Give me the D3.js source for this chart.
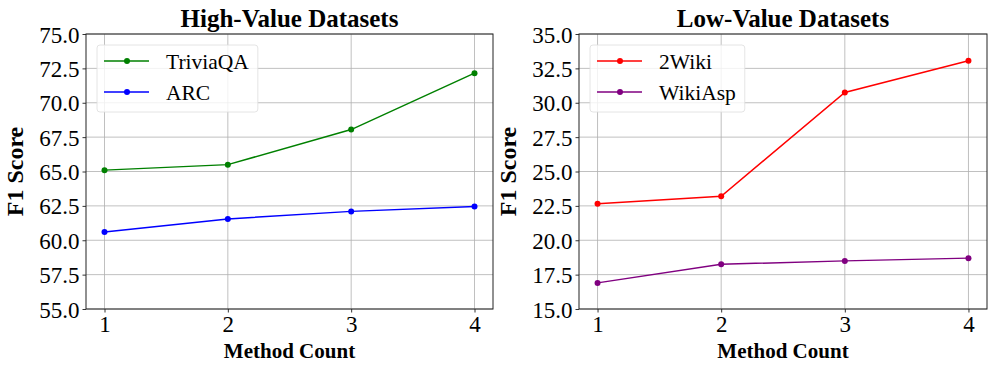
<!DOCTYPE html>
<html>
<head>
<meta charset="utf-8">
<script src="https://cdn.jsdelivr.net/npm/d3@7"></script>
<style>
body { margin: 0; background: #fff; }
svg { font-family: "Liberation Serif", "DejaVu Serif", serif; }
</style>
</head>
<body>
<div class="content"></div>
<script>
var methodCount = [1, 2, 3, 4];
var triviaQA = [65.1, 65.5, 68.05, 72.15];
var arc = [60.6, 61.55, 62.1, 62.45];
var twoWiki = [22.65, 23.2, 30.75, 33.05];
var wikiAsp = [16.9, 18.25, 18.5, 18.7];
var highTicks = [55.0, 57.5, 60.0, 62.5, 65.0, 67.5, 70.0, 72.5, 75.0];
var lowTicks = [15.0, 17.5, 20.0, 22.5, 25.0, 27.5, 30.0, 32.5, 35.0];

var width = 997, height = 374;
var svg = d3.select(".content").append("svg").attr("width", width).attr("height", height);

function panel(left, right, title, ticks, series) {
	var top = 34, bottom = 309;
	var x = d3.scaleLinear().domain([0.85, 4.15]).range([left, right]);
	var y = d3.scaleLinear().domain([ticks[0], ticks[ticks.length - 1]]).range([bottom, top]);
	var g = svg.append("g");

	// grid
	g.selectAll(".gx").data(methodCount).enter().append("line")
		.attr("x1", function(d){ return x(d); }).attr("x2", function(d){ return x(d); })
		.attr("y1", top).attr("y2", bottom).attr("stroke", "#b0b0b0").attr("stroke-width", 0.8);
	g.selectAll(".gy").data(ticks).enter().append("line")
		.attr("y1", function(d){ return y(d); }).attr("y2", function(d){ return y(d); })
		.attr("x1", left).attr("x2", right).attr("stroke", "#b0b0b0").attr("stroke-width", 0.8);

	var ax = g.append("g").attr("transform", "translate(0," + bottom + ")")
		.call(d3.axisBottom(x).tickValues(methodCount).tickSize(3.5).tickPadding(4).tickFormat(d3.format("d")));
	var ay = g.append("g").attr("transform", "translate(" + left + ",0)")
		.call(d3.axisLeft(y).tickValues(ticks).tickSize(3.5).tickPadding(3).tickFormat(d3.format(".1f")));
	[ax, ay].forEach(function(a){
		a.select(".domain").remove();
		a.selectAll("text").attr("font-size", 23).attr("fill", "#000").attr("font-family", "Liberation Serif");
		a.selectAll("line").attr("stroke", "#000").attr("stroke-width", 0.8);
	});
	ay.selectAll("text").attr("dy", "0.35em");
	ax.selectAll("text").attr("dy", "0.68em");

	g.append("rect").attr("x", left).attr("y", top).attr("width", right - left).attr("height", bottom - top)
		.attr("fill", "none").attr("stroke", "#222").attr("stroke-width", 1);

	var line = d3.line().x(function(d, i){ return x(methodCount[i]); }).y(function(d){ return y(d); });
	series.forEach(function(s){
		g.append("path").datum(s.values).attr("d", line).attr("fill", "none")
			.attr("stroke", s.color).attr("stroke-width", 1.5);
		g.selectAll(null).data(s.values).enter().append("circle")
			.attr("cx", function(d, i){ return x(methodCount[i]); })
			.attr("cy", function(d){ return y(d); })
			.attr("r", 3).attr("fill", s.color);
	});

	g.append("text").attr("x", (left + right) / 2).attr("y", 27).attr("text-anchor", "middle")
		.attr("font-size", 25).attr("font-weight", "bold").text(title);
	g.append("text").attr("x", (left + right) / 2).attr("y", 358).attr("text-anchor", "middle")
		.attr("font-size", 21).attr("font-weight", "bold").text("Method Count");
	g.append("text").attr("transform", "translate(" + (left - 63) + "," + ((top + bottom) / 2) + ") rotate(-90)")
		.attr("text-anchor", "middle").attr("font-size", 24).attr("font-weight", "bold").text("F1 Score");

	// legend
	var lx = left + 11, ly = 45;
	var box = g.append("rect").attr("x", lx).attr("y", ly).attr("height", 67).attr("rx", 3)
		.attr("fill", "#fff").attr("fill-opacity", 0.8).attr("stroke", "#ddd").attr("stroke-width", 0.8);
	var maxEnd = 0;
	series.forEach(function(s, i){
		var yy = ly + 16 + i * 31;
		g.append("line").attr("x1", lx + 7).attr("x2", lx + 52).attr("y1", yy).attr("y2", yy)
			.attr("stroke", s.color).attr("stroke-width", 1.5);
		g.append("circle").attr("cx", lx + 30).attr("cy", yy).attr("r", 3).attr("fill", s.color);
		var t = g.append("text").attr("x", lx + 69).attr("y", yy).attr("dy", "0.35em")
			.attr("font-size", 21.5).text(s.name);
		maxEnd = Math.max(maxEnd, 69 + t.node().getComputedTextLength());
	});
	box.attr("width", maxEnd + 9);
}

panel(86, 493, "High-Value Datasets", highTicks, [
	{ name: "TriviaQA", values: triviaQA, color: "green" },
	{ name: "ARC", values: arc, color: "blue" }
]);
panel(579, 987, "Low-Value Datasets", lowTicks, [
	{ name: "2Wiki", values: twoWiki, color: "red" },
	{ name: "WikiAsp", values: wikiAsp, color: "purple" }
]);
</script>
</body>
</html>
